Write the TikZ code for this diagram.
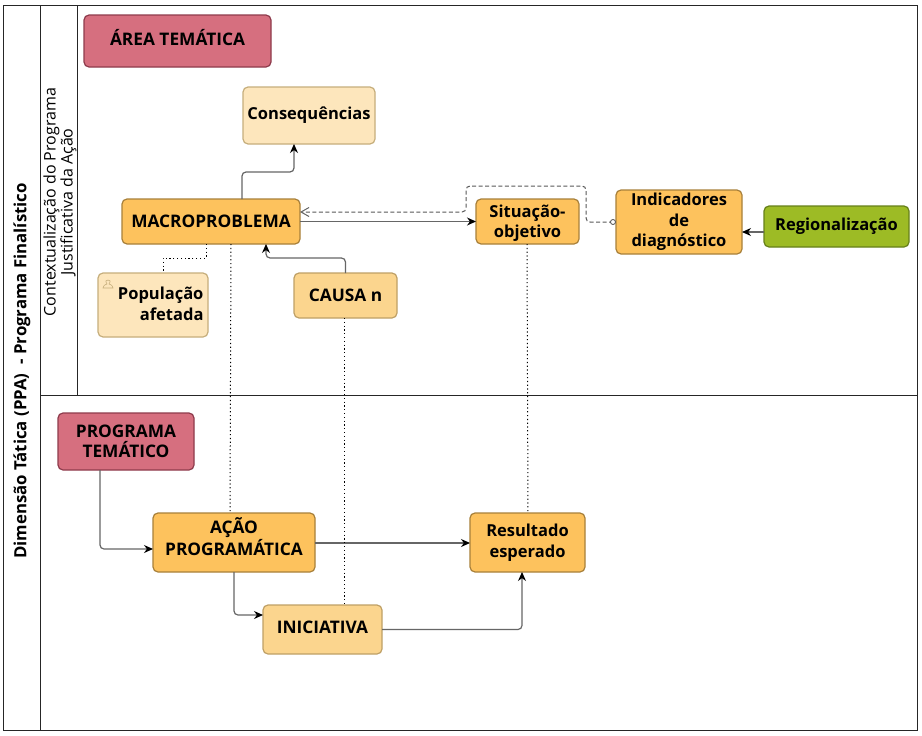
\documentclass[tikz,border=0pt]{standalone}
\usepackage{fontspec}
\setmainfont{Open Sans}
\usetikzlibrary{arrows.meta}
\definecolor{cRed}{HTML}{D66F7F}
\definecolor{cRedD}{HTML}{8E3B4C}
\definecolor{cOr}{HTML}{FDC25D}
\definecolor{cOrD}{HTML}{A8803A}
\definecolor{cMid}{HTML}{FBD58E}
\definecolor{cMidD}{HTML}{BFA066}
\definecolor{cLight}{HTML}{FDE6BC}
\definecolor{cLightD}{HTML}{C6AE7C}
\definecolor{cGreen}{HTML}{9DBB25}
\definecolor{cGreenD}{HTML}{66801A}
\tikzset{
  box/.style={draw,line width=1.2pt,rounded corners=5pt,inner sep=0pt,outer sep=0pt,align=center,font=\fontsize{17.3}{20.5}\selectfont\bfseries,text=black},
  lc/.style={font=\fontsize{16.5}{20.5}\selectfont\bfseries},
  redbox/.style={box,fill=cRed,draw=cRedD},
  orbox/.style={box,fill=cOr,draw=cOrD},
  midbox/.style={box,fill=cMid,draw=cMidD},
  lightbox/.style={box,fill=cLight,draw=cLightD},
  greenbox/.style={box,fill=cGreen,draw=cGreenD},
  conn/.style={line width=1.2pt,draw=black!60,rounded corners=4pt,-{Stealth[length=9pt,width=8pt,black]}},
  linkd/.style={line width=1pt,draw=black!65,dash pattern=on 4pt off 2.5pt,rounded corners=4pt},
  dots/.style={line width=1pt,draw=black,dash pattern=on 1.2pt off 2.6pt},
  frameline/.style={line width=0.9pt,draw=black!85},
  side/.style={font=\bfseries\fontsize{16.8}{19}\selectfont,rotate=90,align=center},
  side2/.style={font=\fontsize{16}{17}\selectfont,rotate=90,align=center}
}
\newcommand{\bx}[6]{\node[#1,minimum width=#4pt-#2pt,minimum height=#5pt-#3pt,anchor=north west] (#6) at (#2,#3)}
\newcommand{\upby}[2]{\raisebox{0pt}[\height][\dimexpr\depth+#1*2\relax]{#2}}
\newcommand{\downby}[2]{\raisebox{0pt}[\dimexpr\height+#1*2\relax][\depth]{#2}}
\newcommand{\mline}[1]{\begin{tabular}{@{}c@{}}#1\end{tabular}}
\begin{document}
\begin{tikzpicture}[x=1pt,y=-1pt]
\useasboundingbox (0,0) rectangle (922,736);
\fill[white] (0,0) rectangle (922,736);
% frame
\draw[frameline] (3,5) rectangle (917,730);
\draw[frameline] (40,5) -- (40,730);
\draw[frameline] (77,5) -- (77,395);
\draw[frameline] (40,395) -- (917,395);
\node[side] (dim) at (22,371) {Dimensão Tática (PPA)\ \ - Programa Finalístico};
\node[side2] (ctx) at (60,202) {Contextualização do Programa\\Justificativa da Ação};
% boxes
\bx{redbox}{84}{15}{271}{67}{area} {\upby{3pt}{ÁREA TEMÁTICA}};
\bx{lightbox,lc}{243}{87}{375}{144}{cons} {Consequências};
\bx{orbox}{122}{199}{300}{244}{macro} {MACROPROBLEMA};
\bx{orbox,lc}{476}{199}{579}{244}{sit} {\downby{2pt}{\mline{Situação-\\objetivo}}};
\bx{orbox,lc}{616}{190}{742}{254}{ind} {Indicadores\\de\\diagnóstico};
\bx{greenbox,lc}{764}{206}{909}{247}{reg} {Regionalização};
\bx{lightbox}{98}{273}{208}{337}{pop} {};
\node[lc,align=right,anchor=east,text=black] (poptxt) at (207,304) {População\\afetada};
\bx{midbox}{294}{273}{397}{318}{causa} {CAUSA n};
\bx{redbox}{58}{413}{194}{470}{prog} {PROGRAMA\\TEMÁTICO};
\bx{orbox}{153}{513}{315}{572}{acao} {\upby{3pt}{\mline{AÇÃO\\PROGRAMÁTICA}}};
\bx{orbox,lc}{470}{513}{585}{572}{res} {Resultado\\esperado};
\bx{midbox}{263}{605}{382}{654}{ini} {\upby{2pt}{INICIATIVA}};
% small icon in População
\draw[cLightD,line width=0.6pt] (103,288) .. controls (104,284) and (106,285) .. (107,284) .. controls (105,281) and (106,280) .. (108,280) .. controls (110,280) and (111,281) .. (109,284) .. controls (110,285) and (112,284) .. (113,288) -- cycle;
% connectors
\draw[conn] ([xshift=120pt]macro.north west) -- ++(0,-27) -| ([xshift=51pt]cons.south west);
\draw[conn] (macro.east) -- (sit.west);
\draw[conn] (causa.north) -- ++(0,-15) -| ([xshift=144pt]macro.south west);
\draw[conn] ([yshift=-5.5pt]reg.west) -- ([yshift=-10pt]ind.east);
\draw[conn] ([xshift=42pt]prog.south west) |- ([yshift=-6.5pt]acao.west);
\draw[conn] ([xshift=81pt]acao.south west) |- ([yshift=14.5pt]ini.west);
\draw[conn] ([yshift=-0.5pt]acao.east) -- ([yshift=-0.5pt]res.west);
\draw[conn] (ini.east) -| ([xshift=52pt]res.south west);
% dashed relation
\coordinate (lk1) at (300,212);
\draw[linkd,-{Straight Barb[length=8pt,width=9pt,black!60]}] ([xshift=-3pt]ind.west) -- ++(-27,0) -- ++(0,-36) -- ++(-120,0) -- ++(0,26) -- (lk1);
\draw[line width=0.8pt,draw=black!70,fill=white] ([xshift=-3pt]ind.west) circle (2.5pt);
% dotted links
\draw[dots] ([xshift=84pt]macro.south west) -- ++(0,14) -- ++(-43,0) -- ([xshift=65pt]pop.north west);
\draw[dots] ([xshift=109pt]macro.south west) -- ([xshift=77pt]acao.north west);
\draw[dots] ([xshift=50pt]causa.south west) -- ([xshift=81pt]ini.north west);
\draw[dots] ([xshift=51pt]sit.south west) -- ([xshift=58pt]res.north west);
\end{tikzpicture}
\end{document}
